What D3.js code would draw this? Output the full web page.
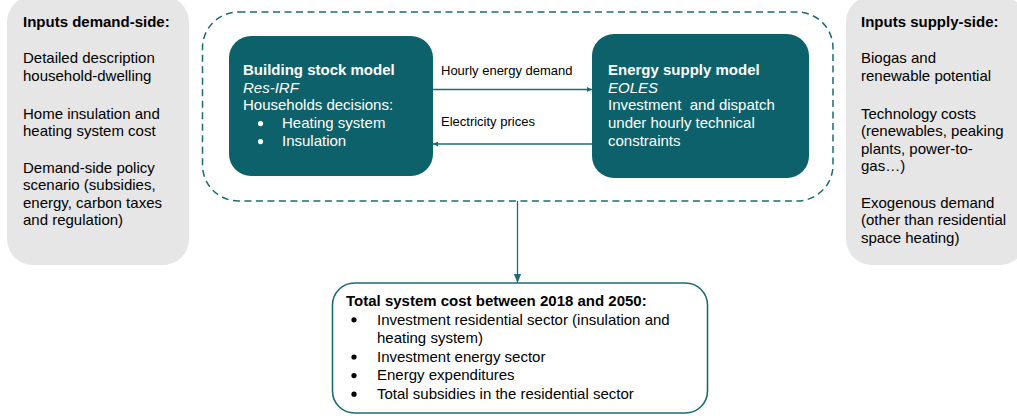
<!DOCTYPE html>
<html>
<head>
<meta charset="utf-8">
<script src="https://cdn.jsdelivr.net/npm/d3@7"></script>
<style>
  html, body { margin: 0; padding: 0; background: #fff; }
  svg { display: block; font-family: "Liberation Sans", Arial, sans-serif; }
  svg text { white-space: pre; }
</style>
</head>
<body>
<svg id="chart" width="1017" height="416"></svg>
<script>
// ---- content (text data) ----
const demandTitle = "Inputs demand-side:";
const demandLines = [
  ["Detailed description", "household-dwelling"],
  ["Home insulation and", "heating system cost"],
  ["Demand-side policy", "scenario (subsidies,", "energy, carbon taxes", "and regulation)"]
];
const supplyTitle = "Inputs supply-side:";
const supplyLines = [
  ["Biogas and", "renewable potential"],
  ["Technology costs", "(renewables, peaking", "plants, power-to-", "gas…)"],
  ["Exogenous demand", "(other than residential", "space heating)"]
];
const buildingTitle = "Building stock model";
const buildingModel = "Res-IRF";
const buildingText = ["Households decisions:"];
const buildingBullets = ["Heating system", "Insulation"];
const supplyModelTitle = "Energy supply model";
const supplyModel = "EOLES";
const supplyModelText = ["Investment  and dispatch", "under hourly technical", "constraints"];
const arrowLabels = ["Hourly energy demand", "Electricity prices"];
const totalTitle = "Total system cost between 2018 and 2050:";
const totalBullets = [
  ["Investment residential sector (insulation and", "heating system)"],
  ["Investment energy sector"],
  ["Energy expenditures"],
  ["Total subsidies in the residential sector"]
];

// ---- style / layout ----
const TEAL = "#0c616a";
const LINE = "#1e6b73";
const GREY = "#e6e6e6";
const FS = 15;

const svg = d3.select("#chart");
const defs = svg.append("defs");
defs.append("marker").attr("id", "arr").attr("viewBox", "0 0 10 10")
  .attr("refX", 10).attr("refY", 5).attr("markerWidth", 5).attr("markerHeight", 5)
  .attr("markerUnits", "userSpaceOnUse").attr("orient", "auto")
  .append("path").attr("d", "M0,0 L10,5 L0,10 z").attr("fill", LINE);
defs.append("marker").attr("id", "arr2").attr("viewBox", "0 0 10 10")
  .attr("refX", 10).attr("refY", 5).attr("markerWidth", 9).attr("markerHeight", 9)
  .attr("markerUnits", "userSpaceOnUse").attr("orient", "auto")
  .append("path").attr("d", "M0,1 L10,5 L0,9 z").attr("fill", LINE);

function rbox(x, y, w, h, r, fill, stroke, sw, dash) {
  const rc = svg.append("rect").attr("x", x).attr("y", y).attr("width", w).attr("height", h)
    .attr("rx", r).attr("ry", r).attr("fill", fill);
  if (stroke) rc.attr("stroke", stroke).attr("stroke-width", sw);
  if (dash) rc.attr("stroke-dasharray", dash);
  return rc;
}
function txt(x, y, s, opts = {}) {
  return svg.append("text").attr("x", x).attr("y", y).text(s)
    .attr("xml:space", "preserve")
    .attr("font-size", opts.size || FS)
    .attr("font-weight", opts.bold ? "bold" : "normal")
    .attr("font-style", opts.italic ? "italic" : "normal")
    .attr("fill", opts.fill || "#000");
}

// grey side boxes
rbox(7, -4, 182, 269, 26, GREY);
rbox(846, -4, 180, 269, 26, GREY);

// side texts
(function () {
  const lh = 17.6;
  const starts = [63, 118.5, 172.5];
  txt(23, 27, demandTitle, { bold: true });
  demandLines.forEach((g, i) => g.forEach((l, j) => txt(23, starts[i] + j * lh, l)));
  const starts2 = [63, 118.5, 207.5];
  txt(861, 27, supplyTitle, { bold: true });
  supplyLines.forEach((g, i) => g.forEach((l, j) => txt(861, starts2[i] + j * lh, l)));
})();

// dashed coupling box
rbox(202.5, 12, 630.5, 189, 36, "none", LINE, 1.5, "7,4.5");

// model boxes
rbox(229, 36, 204, 140, 22, TEAL);
rbox(592, 34, 217, 144, 22, TEAL);

txt(243, 75, buildingTitle, { bold: true, fill: "#fff" });
txt(243, 92.5, buildingModel, { italic: true, fill: "#fff" });
buildingText.forEach((l, i) => txt(243, 110 + i * 17.6, l, { fill: "#fff" }));
buildingBullets.forEach((l, i) => {
  const y = 128.3 + i * 18;
  svg.append("circle").attr("cx", 260.5).attr("cy", y - 4.7).attr("r", 2.6).attr("fill", "#fff");
  txt(282, y, l, { fill: "#fff" });
});

txt(608, 75, supplyModelTitle, { bold: true, fill: "#fff" });
txt(608, 92.5, supplyModel, { italic: true, fill: "#fff" });
supplyModelText.forEach((l, i) => txt(608, 110 + i * 18, l, { fill: "#fff" }));

// arrows between models
svg.append("line").attr("x1", 433).attr("y1", 89.5).attr("x2", 592).attr("y2", 89.5)
  .attr("stroke", LINE).attr("stroke-width", 1.5).attr("marker-end", "url(#arr)");
svg.append("line").attr("x1", 592).attr("y1", 144).attr("x2", 433).attr("y2", 144)
  .attr("stroke", LINE).attr("stroke-width", 1.5).attr("marker-end", "url(#arr)");
txt(441, 75, arrowLabels[0], { size: 13 });
txt(441, 125.5, arrowLabels[1], { size: 13 });

// vertical arrow
svg.append("line").attr("x1", 517.5).attr("y1", 201).attr("x2", 517.5).attr("y2", 283)
  .attr("stroke", LINE).attr("stroke-width", 1.3).attr("marker-end", "url(#arr2)");

// total cost box
rbox(332.5, 283, 375, 130, 22, "#fff", LINE, 1.6);
txt(346, 306, totalTitle, { bold: true });
(function () {
  let y = 324.5;
  totalBullets.forEach(b => {
    svg.append("circle").attr("cx", 354).attr("cy", y - 4.7).attr("r", 2.6).attr("fill", "#000");
    b.forEach(l => { txt(377, y, l); y += 18.6; });
  });
})();
</script>
</body>
</html>
